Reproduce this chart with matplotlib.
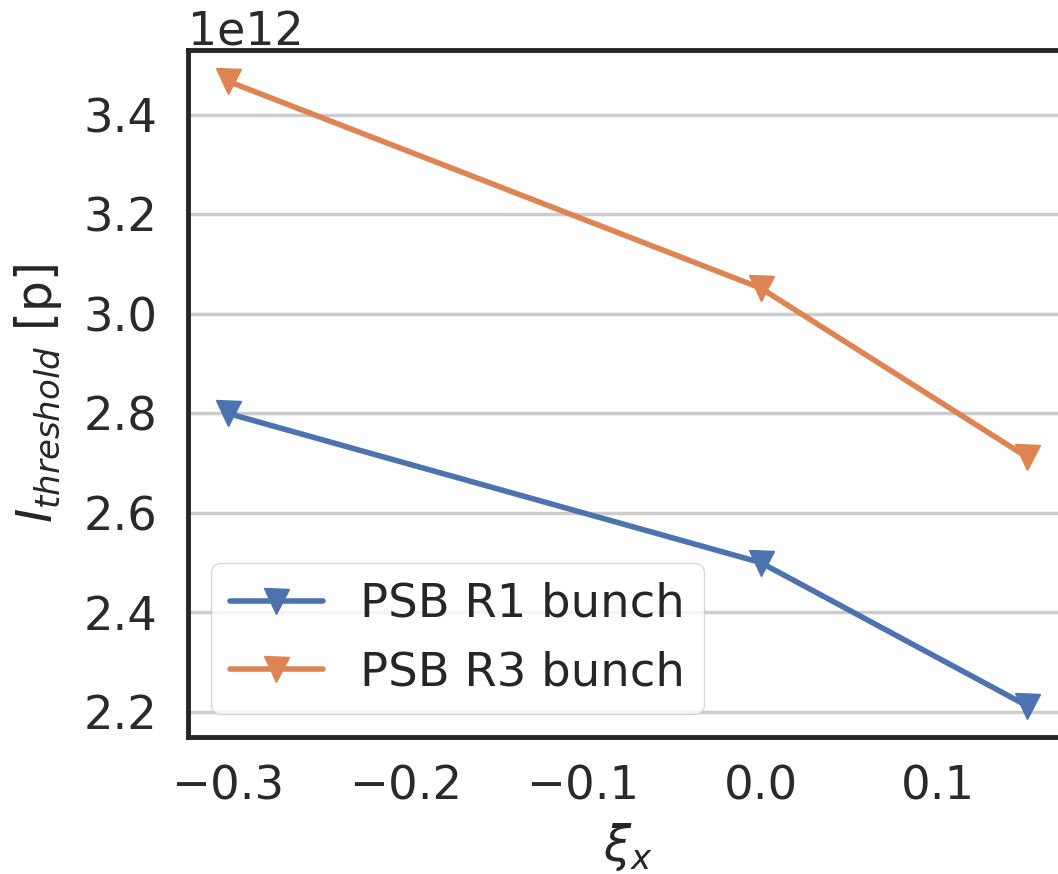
import numpy as np
import matplotlib
matplotlib.use("Agg")
import matplotlib.pyplot as plt
import seaborn as sns

# chromaticity values
xi_x = [-0.3, 0.0, 0.15]
# threshold intensities [p]
r1_threshold = [2.80e12, 2.50e12, 2.212e12]
r3_threshold = [3.468e12, 3.052e12, 2.712e12]
labels = ["PSB R1 bunch", "PSB R3 bunch"]

sns.set_theme(style="whitegrid")
plt.rcParams['font.family'] = ['DejaVu Sans']
colors = sns.color_palette("deep")

fig = plt.figure(figsize=(10.58, 8.74), dpi=100)
ax = fig.add_axes([188/1058, 1 - 737/874, (1067-188)/1058, (737-50)/874])

ax.plot(xi_x, r1_threshold, marker='v', lw=4, ms=18, color=colors[0], label=labels[0])
ax.plot(xi_x, r3_threshold, marker='v', lw=4, ms=18, color=colors[1], label=labels[1])

ax.grid(axis='x', visible=False)
ax.grid(axis='y', color='#cccccc', lw=2.5)
for s in ax.spines.values():
    s.set_edgecolor('#262626')
    s.set_linewidth(3.5)

ax.set_xticks([-0.3, -0.2, -0.1, 0.0, 0.1])
ax.set_yticks(np.arange(2.2e12, 3.41e12, 0.2e12))
ax.tick_params(labelsize=33.5, colors='#2a2a2a')
ax.tick_params(axis='y', pad=16)
ax.tick_params(axis='x', pad=14)
ax.yaxis.get_offset_text().set_fontsize(33)
ax.set_xlabel(r"$\xi_x$", fontsize=35, labelpad=8)
ax.set_ylabel(r"$I_{threshold}$ [p]", fontsize=35, labelpad=14)

ax.legend(loc='lower left', fontsize=33.5, frameon=True, handlelength=2.0,
          borderaxespad=0.5, markerscale=1.0)

fig.savefig("out.png", dpi=100)
